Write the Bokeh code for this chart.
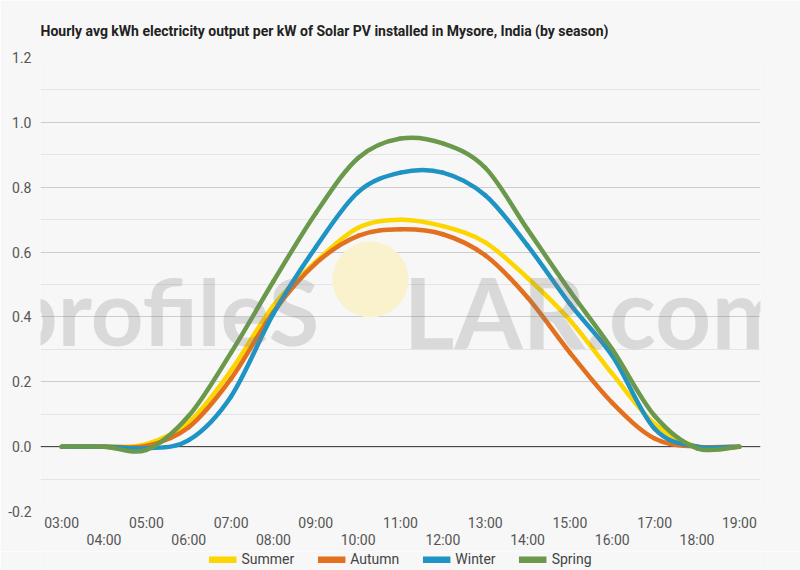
import numpy as np
from bokeh.plotting import figure
from bokeh.layouts import column
from bokeh.models import (Range1d, FixedTicker, LinearAxis, Legend, LegendItem,
                          Span, Label, BoxAnnotation, PrintfTickFormatter)
from bokeh.embed import file_html
from bokeh.resources import INLINE

# ---------------- data ----------------
hours = ["03:00", "04:00", "05:00", "06:00", "07:00", "08:00", "09:00", "10:00", "11:00",
         "12:00", "13:00", "14:00", "15:00", "16:00", "17:00", "18:00", "19:00"]
summer = [0.0, 0.0, 0.008, 0.075, 0.235, 0.435, 0.57, 0.675, 0.70, 0.68, 0.63, 0.52, 0.39, 0.225, 0.07, 0.0, 0.0]
autumn = [0.0, 0.0, 0.002, 0.06, 0.21, 0.415, 0.565, 0.65, 0.67, 0.655, 0.59, 0.46, 0.29, 0.135, 0.025, 0.0, 0.0]
winter = [0.0, 0.0, -0.005, 0.02, 0.155, 0.41, 0.615, 0.785, 0.845, 0.845, 0.775, 0.62, 0.44, 0.28, 0.055, 0.0, 0.0]
spring = [0.0, 0.0, -0.01, 0.095, 0.29, 0.51, 0.72, 0.89, 0.95, 0.935, 0.86, 0.67, 0.48, 0.30, 0.095, -0.005, 0.0]
series_names = ["Summer", "Autumn", "Winter", "Spring"]
series_values = [summer, autumn, winter, spring]
series_colors = ["#fdd500", "#e2701f", "#1f93c3", "#6a994c"]
y_ticks = [-0.2, 0.0, 0.2, 0.4, 0.6, 0.8, 1.0, 1.2]
y_minor = [-0.1, 0.1, 0.3, 0.5, 0.7, 0.9, 1.1]
title_text = "Hourly avg kWh electricity output per kW of Solar PV installed in Mysore, India (by season)"

BG = "#f7f7f7"
FONT = "Roboto"
W = 800
H_MAIN = 551
H_LEG = 19

p = figure(width=W, height=H_MAIN, output_backend="svg", toolbar_location=None,
           x_range=Range1d(-0.5, len(hours) - 0.5), y_range=Range1d(y_ticks[0], y_ticks[-1]),
           x_axis_location=None, min_border_left=40, min_border_right=40,
           min_border_top=57, min_border_bottom=40)
p.background_fill_color = BG
p.border_fill_color = BG
p.outline_line_color = None

p.title.text = title_text
p.title.text_font = FONT
p.title.text_font_size = "14px"
p.title.text_font_style = "bold"
p.title.text_color = "#222222"
p.title.standoff = 38
p.title.align = "left"

# grid
p.xgrid.grid_line_color = None
p.ygrid.grid_line_color = "#cccccc"
p.ygrid.minor_grid_line_color = "#e4e4e4"
p.yaxis.ticker = FixedTicker(ticks=y_ticks, minor_ticks=y_minor)
p.yaxis.formatter = PrintfTickFormatter(format="%.1f")
p.yaxis.axis_line_color = None
p.yaxis.major_tick_line_color = None
p.yaxis.minor_tick_line_color = None
p.yaxis.major_tick_out = 0
p.yaxis.minor_tick_out = 0
p.yaxis.major_label_standoff = 9
p.yaxis.major_label_text_font = FONT
p.yaxis.major_label_text_font_size = "14px"
p.yaxis.major_label_text_color = "#555555"

# two rows of x labels
idx = list(range(len(hours)))
for k, standoff in ((0, 3), (1, -2)):
    ticks = idx[k::2]
    ax = LinearAxis(ticker=FixedTicker(ticks=ticks),
                    major_label_overrides={t: hours[t] for t in ticks})
    ax.axis_line_color = None
    ax.major_tick_line_color = None
    ax.minor_tick_line_color = None
    ax.major_tick_out = 0
    ax.minor_tick_out = 0
    ax.major_label_standoff = standoff
    ax.major_label_text_font = FONT
    ax.major_label_text_font_size = "14px"
    ax.major_label_text_color = "#555555"
    p.add_layout(ax, "below")

# zero line
p.add_layout(Span(location=0, dimension="width", line_color="#333333", line_width=1, level="underlay"))

# sun of watermark
p.add_layout(BoxAnnotation(left=292, right=368, bottom=194, top=270,
                           left_units="screen", right_units="screen",
                           top_units="screen", bottom_units="screen",
                           fill_color="#f9f2cc", fill_alpha=1.0, line_color=None,
                           border_radius=38, level="underlay"))

# smooth curves (cubic bezier segments through the data points)
x = np.array(idx, dtype=float)
for name, vals, col in zip(series_names, series_values, series_colors):
    y = np.array(vals, dtype=float)
    xp = np.concatenate([[x[0]], x, [x[-1]]])
    yp = np.concatenate([[y[0]], y, [y[-1]]])
    n = len(x) - 1
    x0, y0 = x[:-1], y[:-1]
    x1, y1 = x[1:], y[1:]
    cx0 = x0 + (xp[2:n + 2] - xp[0:n]) / 6.0
    cy0 = y0 + (yp[2:n + 2] - yp[0:n]) / 6.0
    cx1 = x1 - (xp[3:n + 3] - xp[1:n + 1]) / 6.0
    cy1 = y1 - (yp[3:n + 3] - yp[1:n + 1]) / 6.0
    p.bezier(x0=x0, y0=y0, x1=x1, y1=y1, cx0=cx0, cy0=cy0, cx1=cx1, cy1=cy1,
             line_color=col, line_width=4.5, line_cap="round")

# watermark text
for txt, xx, align, size in (("profileS", -35, "left", "92px"), ("LAR.com", 753, "right", "98px")):
    p.add_layout(Label(x=xx, y=201, x_units="screen", y_units="screen", text=txt,
                       text_font="Lato", text_font_size=size, text_font_style="bold",
                       text_color="#808080", text_alpha=0.25, text_align=align,
                       text_baseline="alphabetic"))

# ---------------- legend strip below the chart ----------------
lf = figure(width=W, height=H_LEG, output_backend="svg", toolbar_location=None,
            x_range=Range1d(-0.5, len(hours) - 0.5), y_range=Range1d(y_ticks[0], y_ticks[-1]),
            x_axis_location=None, y_axis_location=None,
            min_border=0, min_border_left=0, min_border_right=0,
            min_border_top=0, min_border_bottom=0)
lf.background_fill_color = BG
lf.border_fill_color = BG
lf.outline_line_color = None
lf.grid.visible = False
items = []
for name, vals, col in zip(series_names, series_values, series_colors):
    sw = lf.line(x=x, y=np.array(vals, dtype=float), line_color=col, line_width=7,
                 line_cap="butt", visible=False)
    items.append(LegendItem(label=name, renderers=[sw]))
legend = Legend(items=items, orientation="horizontal", location="top_center",
                background_fill_alpha=0, border_line_color=None, padding=0, margin=0,
                spacing=23, glyph_width=28, glyph_height=7, label_standoff=5,
                label_text_font=FONT, label_text_font_size="14px", label_text_color="#444444",
                label_height=14)
lf.add_layout(legend, "center")

layout = column(p, lf, spacing=0)
open("out.html", "w").write(file_html(layout, INLINE))
